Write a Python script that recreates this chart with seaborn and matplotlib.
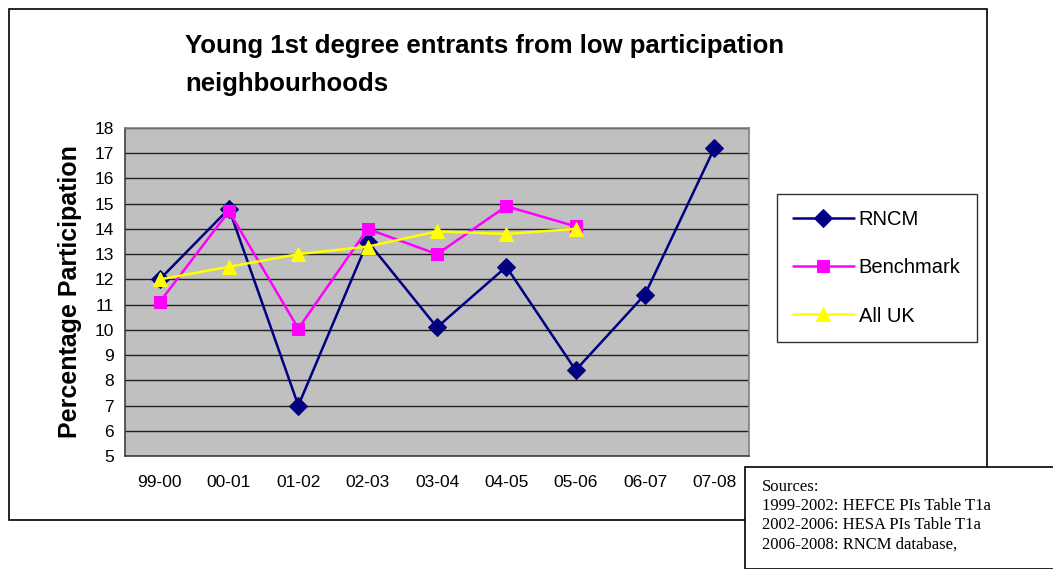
import numpy as np
import pandas as pd
import seaborn as sns
import matplotlib.pyplot as plt
from matplotlib.patches import Rectangle

years = ['99-00', '00-01', '01-02', '02-03', '03-04', '04-05', '05-06', '06-07', '07-08']
rncm = [12.0, 14.8, 7.0, 13.5, 10.1, 12.5, 8.4, 11.4, 17.2]
benchmark = [11.1, 14.7, 10.05, 14.0, 13.0, 14.9, 14.1, np.nan, np.nan]
all_uk = [12.0, 12.5, 13.0, 13.3, 13.9, 13.8, 14.0, np.nan, np.nan]

sources = ['Sources:',
           '1999-2002: HEFCE PIs Table T1a',
           '2002-2006: HESA PIs Table T1a',
           '2006-2008: RNCM database,']

df = pd.DataFrame({'year': years, 'RNCM': rncm, 'Benchmark': benchmark, 'All UK': all_uk})
df['pos'] = np.arange(len(years))

sns.set_style('white')
plt.rcParams['font.family'] = ['Liberation Sans', 'DejaVu Sans']
plt.rcParams['text.color'] = 'black'
plt.rcParams['axes.labelcolor'] = 'black'
plt.rcParams['xtick.color'] = 'black'
plt.rcParams['ytick.color'] = 'black'

fig = plt.figure(figsize=(10.53, 5.69), dpi=100)
ax = fig.add_axes([125 / 1053, 1 - 456 / 569, 624 / 1053, 328 / 569])
ax.set_facecolor('#c0c0c0')

# outer chart frame
fig.patches.append(Rectangle((9 / 1053, 1 - 520 / 569), 978 / 1053, 511 / 569,
                             transform=fig.transFigure, fill=False, edgecolor='black', lw=1.2))

series = [('RNCM', '#000080', 'D', 9.5),
          ('Benchmark', '#ff00ff', 's', 9),
          ('All UK', '#ffff00', '^', 10.5)]
for name, col, mk, ms in series:
    sns.lineplot(data=df, x='pos', y=name, ax=ax, color=col, marker=mk, markersize=ms,
                 markeredgecolor=col, linewidth=1.8, label=name, sort=False)

ax.set_xlim(-0.5, len(years) - 0.5)
ax.set_ylim(5, 18)
ax.set_yticks(range(5, 19))
ax.set_xticks(df['pos'])
ax.set_xticklabels(years)
ax.set_xticks(np.arange(-0.5, len(years)), minor=True)
ax.tick_params(axis='x', which='major', length=0, pad=14, labelsize=12.5)
ax.tick_params(axis='x', which='minor', length=5, width=1, color='#404040', direction='out')
ax.tick_params(axis='y', length=5, width=1, color='#404040', direction='out', labelsize=12.5, pad=3)
ax.yaxis.grid(True, color='#202020', lw=1)
ax.set_axisbelow(True)
for s in ax.spines.values():
    s.set_color('#808080')
    s.set_linewidth(1.2)
ax.spines['left'].set_color('#404040')
ax.spines['bottom'].set_color('#404040')
ax.set_xlabel('')
ax.set_ylabel('Percentage Participation', fontsize=18, fontweight='bold', labelpad=9)

fig.text(185 / 1053, 1 - 34 / 569, 'Young 1st degree entrants from low participation\nneighbourhoods',
         ha='left', va='top', fontsize=18.5, fontweight='bold', linespacing=1.72)

leg = ax.legend(loc='upper left', bbox_to_anchor=(777 / 1053, 1 - 194 / 569),
                bbox_transform=fig.transFigure, frameon=True, fancybox=False,
                edgecolor='black', fontsize=14.5, labelspacing=1.45, handlelength=3,
                handletextpad=0.25, borderpad=0.8, borderaxespad=0)
leg.get_frame().set_linewidth(1)

# sources box
fig.patches.append(Rectangle((745 / 1053, 0), 320 / 1053, 1 - 467 / 569,
                             transform=fig.transFigure, facecolor='white', edgecolor='black',
                             lw=1.2, zorder=5))
fig.text(762 / 1053, 1 - 479 / 569, '\n'.join(sources), ha='left', va='top',
         fontsize=12, family=['Liberation Serif', 'DejaVu Serif'], linespacing=1.27, zorder=6)

fig.savefig('out.png', dpi=100)
